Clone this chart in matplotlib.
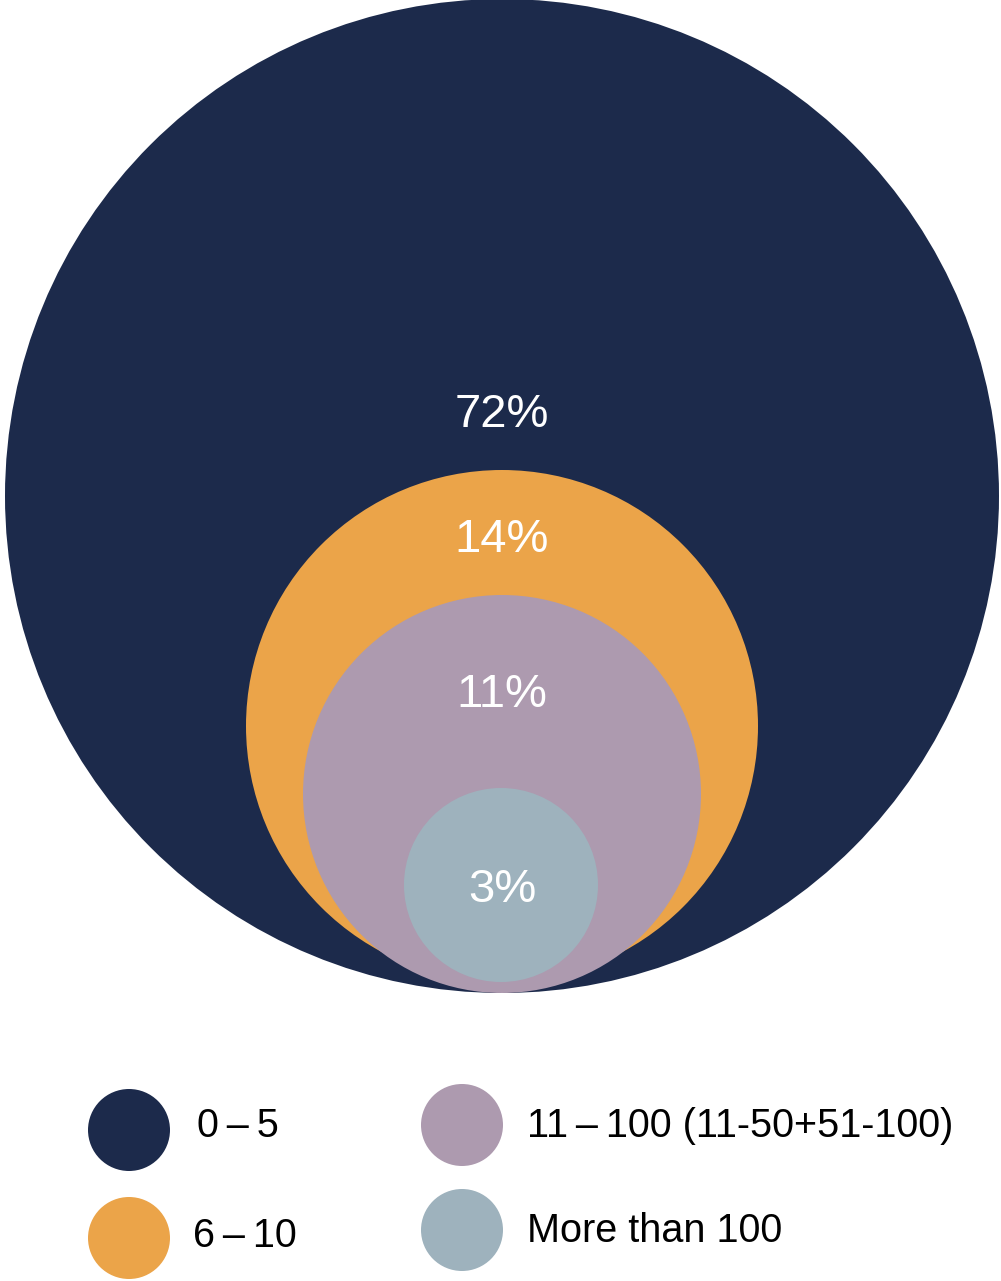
import matplotlib.pyplot as plt
from matplotlib.patches import Circle

# data (thin spaces around the en dash, as in the original typesetting)
categories = ['0\u2009–\u20095', '6\u2009–\u200910',
              '11\u2009–\u2009100 (11-50+51-100)', 'More than 100']
shares = [72, 14, 11, 3]
colors = ['#1c2a4b', '#eba449', '#ad9aaf', '#9eb2bd']

# circle geometry (pixel space, y downwards)
circle_centers = [(502, 496), (502, 726), (502, 794), (501, 885)]
circle_radii = [497, 256, 199, 97]
label_baseline = [427, 552, 707, 902]

legend_pos = [(129, 1130), (129, 1238), (462, 1125), (462, 1230)]
legend_text_x = [197, 193, 527, 527]
legend_baseline = [1137, 1247, 1137, 1242]

W, H = 1001, 1281

plt.rcParams['font.family'] = ['Liberation Sans', 'DejaVu Sans']

fig = plt.figure(figsize=(W / 100, H / 100), dpi=100)
ax = fig.add_axes([0, 0, 1, 1])
ax.set_xlim(0, W)
ax.set_ylim(H, 0)
ax.set_aspect('equal')
ax.axis('off')

for (cx, cy), r, c in zip(circle_centers, circle_radii, colors):
    ax.add_patch(Circle((cx, cy), r, facecolor=c, edgecolor='none'))

for s, y in zip(shares, label_baseline):
    ax.text(502, y, f"{s}%", color='white', fontsize=34,
            ha='center', va='baseline')

for (lx, ly), tx, by, cat, c in zip(legend_pos, legend_text_x, legend_baseline,
                                    categories, colors):
    ax.add_patch(Circle((lx, ly), 41, facecolor=c, edgecolor='none'))
    ax.text(tx, by, cat, color='black', fontsize=28.5,
            ha='left', va='baseline')

fig.savefig('out.png', dpi=100)
plt.close(fig)
